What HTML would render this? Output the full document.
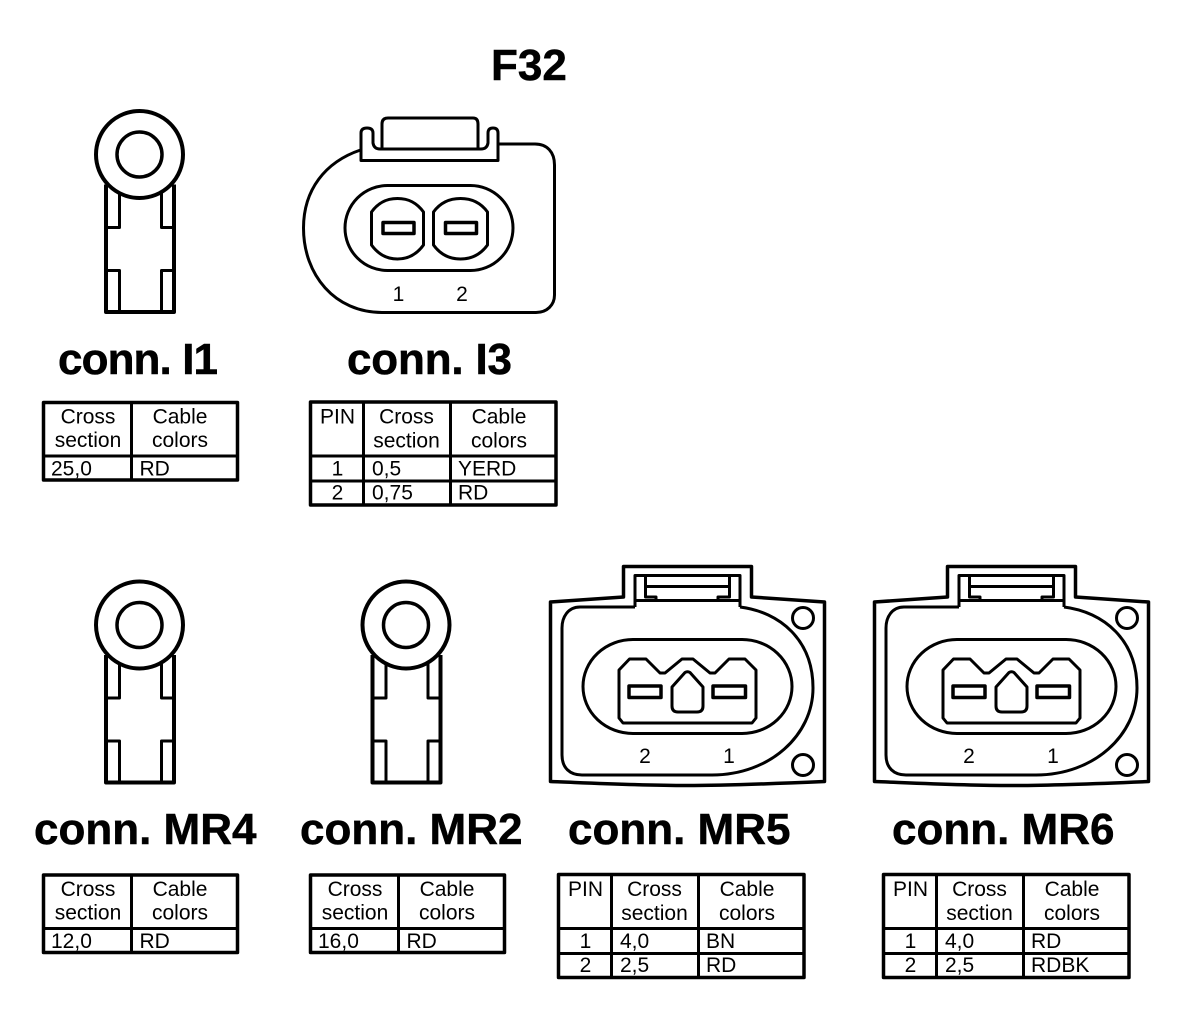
<!DOCTYPE html>
<html>
<head>
<meta charset="utf-8">
<style>
html,body{margin:0;padding:0;background:#fff;width:1200px;height:1014px;overflow:hidden}
svg{display:block}
.s{fill:none;stroke:#000;stroke-linejoin:round;stroke-linecap:butt}
.t{font-family:"Liberation Sans",Arial,sans-serif;font-weight:bold;font-size:44px;fill:#000;stroke:#000;stroke-width:.5px}
.c{font-family:"Liberation Sans",Arial,sans-serif;font-size:21px;fill:#000}
.m{text-anchor:middle}
</style>
</head>
<body>
<svg width="1200" height="1014" viewBox="0 0 1200 1014" xmlns="http://www.w3.org/2000/svg">
<defs>
<g id="ring">
  <path class="s" stroke-width="4" d="M-33.5,30V157.5H34.5V30"/>
  <path class="s" stroke-width="3" d="M-20,37V73H-33M22,37V73H34M-33,116H-20V157M34,116H22V157"/>
  <circle cx="0" cy="0" r="43.5" fill="#fff" stroke="#000" stroke-width="4"/>
  <circle cx="0" cy="0" r="22.5" fill="#fff" stroke="#000" stroke-width="3.5"/>
</g>
<g id="mr">
  <path class="s" stroke-width="3.5" d="M550.5,602L623.5,597V566.5H751.5V597L824.5,602V781.5C790,783 730,785.5 687,785.5C640,785.5 590,783 550.5,781.5Z"/>
  <path class="s" stroke-width="3" d="M635,607V575.5H740V607"/>
  <path class="s" stroke-width="3" d="M635,600.5H740M645.5,586.5H729.5M645.5,576V597H656V600M729.5,576V597H718V600"/>
  <path class="s" stroke-width="3" d="M635,607H580C568,607 562,617 562,628V755C562,768 570,775 582,775H712C770,775 813,735 813,688C813,640 780,612 740,607"/>
  <rect class="s" stroke-width="3" x="583" y="639.5" width="209" height="94" rx="50" ry="47"/>
  <path class="s" stroke-width="3" d="M619,670L629.5,659H646L660,673H665L682,659H693L710,673H715L729,659H745L756,670V718L752,723H623L619,718Z"/>
  <rect class="s" stroke-width="3.5" x="629" y="686" width="32" height="11.5"/>
  <rect class="s" stroke-width="3.5" x="713" y="686" width="32.5" height="11.5"/>
  <path class="s" stroke-width="3" d="M685,672.5Q687.5,671 690,672.5L703,687V706Q703,712 697,712H678Q672,712 672,706V687Z"/>
  <circle class="s" stroke-width="3" cx="803" cy="618" r="10.5"/>
  <circle class="s" stroke-width="3" cx="803" cy="765" r="10.5"/>
  <text class="c m" x="645" y="763">2</text>
  <text class="c m" x="729" y="763">1</text>
</g>
<g id="t2">
  <path class="s" stroke-width="3.5" d="M43.5,402.5H237.5V480H43.5Z"/>
  <path class="s" stroke-width="3" d="M43.5,456H237.5M131.5,402.5V480"/>
  <text class="c m" x="88" y="423.5">Cross</text>
  <text class="c m" x="88" y="447">section</text>
  <text class="c m" x="180" y="423.5">Cable</text>
  <text class="c m" x="180" y="447">colors</text>
</g>
<g id="t3">
  <path class="s" stroke-width="3.5" d="M310.5,402H556V505H310.5Z"/>
  <path class="s" stroke-width="3" d="M310.5,456H556M310.5,481H556M363.5,402V505M450.5,402V505"/>
  <text class="c m" x="337.5" y="423.5">PIN</text>
  <text class="c m" x="406.5" y="423.5">Cross</text>
  <text class="c m" x="406.5" y="447.5">section</text>
  <text class="c m" x="499" y="423.5">Cable</text>
  <text class="c m" x="499" y="447.5">colors</text>
</g>
</defs>

<text class="t" x="491" y="80">F32</text>

<use href="#ring" x="139.5" y="154.5"/>
<use href="#ring" x="139.5" y="625"/>
<use href="#ring" x="406" y="625"/>

<!-- conn I3 -->
<path class="s" stroke-width="3" d="M360.5,150C325,162 303.5,190 303.5,228C303.5,275 335,312.5 382,312.5H536C547,312.5 554.5,305 554.5,295V165C554.5,152 547,144 535,144H498"/>
<path class="s" stroke-width="3" d="M361,160.5V133Q361,128 367,128Q373,128 373,133V143Q374,149 380,149H481Q487,149 488,143V133Q488,128 493,128Q498,128 498,133V160.5Z"/>
<path class="s" stroke-width="3" d="M382,148V124Q382,118 388,118H473Q478,118 478,124V148"/>
<rect class="s" stroke-width="3" x="345" y="185.5" width="168" height="85" rx="42.5" ry="42.5"/>
<path class="s" stroke-width="3" d="M371.5,212C378,203 386,198.5 397.5,198.5C409,198.5 417,203 423.5,212V245C417,254 409,259 397.5,259C386,259 378,254 371.5,245Z"/>
<path class="s" stroke-width="3" d="M433.5,212C440,203 449,198.5 460.5,198.5C472,198.5 481,203 487.5,212V245C481,254 472,259 460.5,259C449,259 440,254 433.5,245Z"/>
<rect class="s" stroke-width="3.5" x="383" y="222.5" width="31" height="11"/>
<rect class="s" stroke-width="3.5" x="445.5" y="222.5" width="31" height="11"/>
<text class="c m" x="398.5" y="301">1</text>
<text class="c m" x="462" y="301">2</text>

<use href="#mr"/>
<use href="#mr" x="324"/>

<text class="t" x="58" y="374" textLength="160">conn. I1</text>
<text class="t" x="347" y="374" textLength="165">conn. I3</text>
<text class="t" x="34" y="844">conn. MR4</text>
<text class="t" x="300" y="844">conn. MR2</text>
<text class="t" x="568" y="844">conn. MR5</text>
<text class="t" x="892" y="844">conn. MR6</text>

<!-- table I1 -->
<use href="#t2"/>
<text class="c" x="51" y="475.5">25,0</text>
<text class="c" x="139.5" y="475.5">RD</text>

<!-- table I3 -->
<use href="#t3"/>
<text class="c m" x="337.5" y="475.5">1</text>
<text class="c" x="372" y="475.5">0,5</text>
<text class="c" x="458" y="475.5">YERD</text>
<text class="c m" x="337.5" y="499.5">2</text>
<text class="c" x="372" y="499.5">0,75</text>
<text class="c" x="458" y="499.5">RD</text>

<!-- table MR4 -->
<use href="#t2" y="472.5"/>
<text class="c" x="51" y="948">12,0</text>
<text class="c" x="139.5" y="948">RD</text>

<!-- table MR2 -->
<use href="#t2" x="267" y="472.5"/>
<text class="c" x="318" y="948">16,0</text>
<text class="c" x="406.5" y="948">RD</text>

<!-- table MR5 -->
<use href="#t3" x="248" y="472.5"/>
<text class="c m" x="585.5" y="948">1</text>
<text class="c" x="620" y="948">4,0</text>
<text class="c" x="706" y="948">BN</text>
<text class="c m" x="585.5" y="972">2</text>
<text class="c" x="620" y="972">2,5</text>
<text class="c" x="706" y="972">RD</text>

<!-- table MR6 -->
<use href="#t3" x="573" y="472.5"/>
<text class="c m" x="910.5" y="948">1</text>
<text class="c" x="945" y="948">4,0</text>
<text class="c" x="1031" y="948">RD</text>
<text class="c m" x="910.5" y="972">2</text>
<text class="c" x="945" y="972">2,5</text>
<text class="c" x="1031" y="972">RDBK</text>
</svg>
</body>
</html>
